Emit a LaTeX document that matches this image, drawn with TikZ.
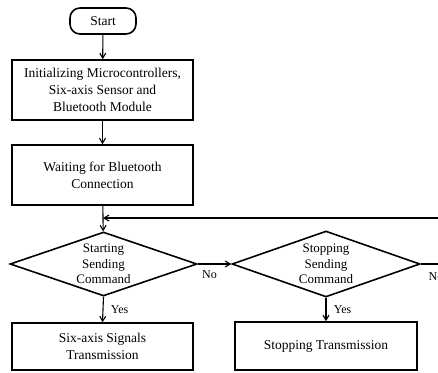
\documentclass[tikz,border=0pt]{standalone}
\usepackage{fontspec}
\setmainfont{Liberation Serif}
\usetikzlibrary{shapes.geometric,arrows.meta}
\begin{document}
\begin{tikzpicture}[x=1pt,y=-1pt,
  font=\fontsize{13.5}{17}\selectfont,
  box/.style={draw,line width=1.6pt,minimum width=181pt,align=center,inner sep=0pt},
  dia/.style={draw,line width=1.6pt,diamond,inner sep=0pt},
  diatext/.style={align=center,font=\fontsize{13}{15.5}\selectfont},
  term/.style={draw,line width=1.6pt,rounded corners=10pt,minimum width=66pt,minimum height=26pt},
  conn/.style={line width=1.1pt,-{Straight Barb[length=5pt,width=6pt]}},
  lbl/.style={font=\fontsize{12}{14}\selectfont}]
\useasboundingbox (0,0) rectangle (438,372);
\clip (0,0) rectangle (438,372);
\node[term] (start) at (103,21) {Start};
\node[box,minimum height=60pt] (init) at (102.5,90) {Initializing Microcontrollers,\\Six-axis Sensor and\\Bluetooth Module};
\node[box,minimum height=60pt] (wait) at (102.5,175) {Waiting for Bluetooth\\Connection};
\node[dia,minimum width=187pt,minimum height=64pt] (d1) at (103.5,264) {};
\node[diatext] (t1) at (d1.center) {Starting\\Sending\\Command};
\node[dia,minimum width=188pt,minimum height=66pt] (d2) at (326,264) {};
\node[diatext] (t2) at (d2.center) {Stopping\\Sending\\Command};
\node[box,minimum height=47pt] (sig) at (102.5,346.5) {Six-axis Signals\\Transmission};
\node[box,minimum height=48pt,minimum width=182pt] (stop) at (326,346) {Stopping Transmission};
\coordinate (join) at (103,218);
\coordinate (rightend) at (440,218);
\coordinate (rightd) at (440,264);
\draw[conn] (start) -- (init);
\draw[conn] (init) -- (wait);
\draw[line width=1.1pt] (wait) -- (join);
\draw[conn] (join) -- (d1);
\draw[conn] (rightend) -- (join);
\draw[conn] (d1.east) -- node[lbl,pos=0.35,below=3pt]{No} (d2.west);
\draw[line width=1.1pt] (d2.east) -- (rightd);
\node[lbl] (no2) at (436,277) {No};
\draw[conn] (d1.south) -- node[lbl,right=4pt]{Yes} (sig.north);
\draw[conn] (d2.south) -- node[lbl,right=4pt]{Yes} (stop.north);
\end{tikzpicture}
\end{document}
